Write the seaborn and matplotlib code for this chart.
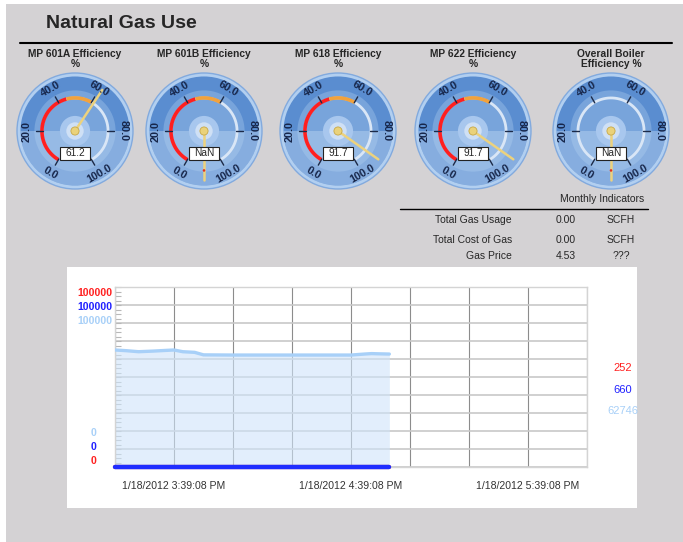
import numpy as np
import pandas as pd
import matplotlib
matplotlib.use('Agg')
import matplotlib.pyplot as plt
import matplotlib.dates as mdates
from matplotlib.patches import Circle, Rectangle, Polygon
from matplotlib.ticker import MultipleLocator
import seaborn as sns

# Gauge data
gauge_titles = ['MP 601A Efficiency\n%', 'MP 601B Efficiency\n%', 'MP 618 Efficiency\n%',
                'MP 622 Efficiency\n%', 'Overall Boiler\nEfficiency %']
gauge_values = [61.2, np.nan, 91.7, 91.7, np.nan]
gauge_bands = [True, True, True, True, False]
scale_ticks = [0, 20, 40, 60, 80, 100]
red_band = [0, 45]
orange_band = [45, 60]

# Monthly indicators
indicator_names = ['Total Gas Usage', 'Total Cost of Gas', 'Gas Price']
indicator_values = ['0.00', '0.00', '4.53']
indicator_units = ['SCFH', 'SCFH', '???']

# Trend data
trend_day = '2012-01-18 '
lightblue_times = ['15:19:08', '15:23:08', '15:27:08', '15:32:08', '15:36:38', '15:39:08',
                   '15:42:08', '15:46:08', '15:49:08', '15:59:08', '16:19:08', '16:39:08',
                   '16:44:08', '16:46:08', '16:48:08', '16:52:08']
lightblue_values = [65000, 64600, 64050, 64400, 64800, 65000, 64050, 63700, 62300, 62200,
                    62200, 62200, 62800, 63000, 62900, 62746]
blue_times = ['15:19:08', '16:52:08']
blue_values = [0, 0]
red_times = ['15:19:08', '16:52:08']
red_values = [0, 0]
x_label_times = ['15:39:08', '16:39:08', '17:39:08']
x_labels = ['1/18/2012 3:39:08 PM', '1/18/2012 4:39:08 PM', '1/18/2012 5:39:08 PM']
x_start, x_end = '15:19:08', '17:59:08'
current_values = ['252', '660', '62746']
series_colors = ['#ff2020', '#2020ff', '#a8d0f8']

W, H = 683, 542
sns.set_style('white')
plt.rcParams['font.family'] = ['Liberation Sans', 'DejaVu Sans']

fig = plt.figure(figsize=(W / 100, H / 100), dpi=100)
bg = fig.add_axes([0, 0, 1, 1])
bg.set_xlim(0, W)
bg.set_ylim(H, 0)
bg.axis('off')

# panels
bg.add_patch(Rectangle((6, 4), W - 6, H - 4, fc='#d4d2d4', ec='none'))
bg.add_patch(Rectangle((67, 267), 570, 241, fc='white', ec='none'))
bg.text(46, 23, 'Natural Gas Use', fontsize=14, fontweight='bold', va='center', ha='left')
bg.plot([20, 672], [43, 43], color='black', lw=1.5)


def gauge(cx, cy, R, title, value, bands):
    def pt(r, ang):
        a = np.deg2rad(ang)
        return cx + r * np.cos(a), cy - r * np.sin(a)

    def v2a(v):
        return 240 - 3 * v

    bg.add_patch(Circle((cx, cy), R, fc='#b2cff0', ec='#82aade', lw=1))
    bg.add_patch(Circle((cx, cy), 0.94 * R, fc='#5a8dd0', ec='none'))
    bg.add_patch(Circle((cx, cy), 0.70 * R, fc='#78a4db', ec='none'))
    t = np.linspace(180, 360, 80)
    x, y = pt(0.94 * R, t)
    bg.add_patch(Polygon(np.column_stack([x, y]), closed=True, fc='#bcd6f3', alpha=0.45, ec='none'))

    t = np.linspace(240, -60, 150)
    x, y = pt(0.57 * R, t)
    bg.plot(x, y, color='#d9e6f6', lw=2, solid_capstyle='butt')
    if bands:
        for (a, b), c in [(red_band, '#ff1f1f'), (orange_band, '#f2a23c')]:
            t = np.linspace(v2a(a), v2a(b), 60)
            x, y = pt(0.57 * R, t)
            bg.plot(x, y, color=c, lw=2.6, solid_capstyle='butt')

    for v in scale_ticks:
        ang = v2a(v)
        x0, y0 = pt(0.56 * R, ang)
        x1, y1 = pt(0.68 * R, ang)
        bg.plot([x0, x1], [y0, y1], color='#1c2a48', lw=1)
        rot = ang - 90
        if rot < -90:
            rot += 180
        elif rot > 90:
            rot -= 180
        lx, ly = pt(0.84 * R, ang)
        bg.text(lx, ly, f'{v:.1f}', rotation=rot, rotation_mode='anchor', ha='center',
                va='center', fontsize=7.8, fontweight='bold', color='#17264a')

    bg.add_patch(Circle((cx, cy), 0.26 * R, fc='#a8c7ee', ec='none'))
    bg.add_patch(Circle((cx, cy), 0.15 * R, fc='#cfe0f5', ec='none'))
    if np.isnan(value):
        x1, y1 = pt(0.85 * R, -90)
        bg.plot([cx, x1], [cy, y1], color='#ecd27e', lw=1.8)
        bg.add_patch(Circle(pt(0.68 * R, -90), 1.3, fc='#e03020', ec='none', zorder=5))
        label = 'NaN'
    else:
        x1, y1 = pt(0.85 * R, v2a(value))
        bg.plot([cx, x1], [cy, y1], color='#ecd27e', lw=1.8)
        label = f'{value:.1f}'
    bg.add_patch(Circle((cx, cy), 0.07 * R, fc='#ead27a', ec='#c8a848', lw=0.6, zorder=4))
    bg.add_patch(Rectangle((cx - 15, cy + 0.38 * R - 6.5), 30, 13, fc='white', ec='#222222',
                           lw=0.8, zorder=6))
    bg.text(cx, cy + 0.38 * R, label, ha='center', va='center', fontsize=7.3, zorder=7)
    bg.text(cx, 59, title, ha='center', va='center', fontsize=7.4, fontweight='bold',
            linespacing=0.95)


gauge_x = [75, 204, 338, 473, 611]
for gx, tt, gv, gb in zip(gauge_x, gauge_titles, gauge_values, gauge_bands):
    gauge(gx, 131, 58, tt, gv, gb)

# Monthly indicators table
bg.text(602, 199, 'Monthly Indicators', ha='center', va='center', fontsize=7.5)
bg.plot([400, 648], [209, 209], color='black', lw=1)
for i, (n, v, u) in enumerate(zip(indicator_names, indicator_values, indicator_units)):
    yy = [220, 240, 256][i]
    bg.text(512, yy, n, ha='right', va='center', fontsize=7.5)
    bg.text(566, yy, v, ha='center', va='center', fontsize=7.5)
    bg.text(621, yy, u, ha='center', va='center', fontsize=7.5)

# Trend chart
ax = fig.add_axes([115 / W, 1 - 467 / H, 472 / W, 180 / H])
ax.set_facecolor('white')
df_lb = pd.DataFrame({'time': pd.to_datetime([trend_day + t for t in lightblue_times]),
                      'value': lightblue_values})
df_blue = pd.DataFrame({'time': pd.to_datetime([trend_day + t for t in blue_times]),
                        'value': blue_values})
df_red = pd.DataFrame({'time': pd.to_datetime([trend_day + t for t in red_times]),
                       'value': red_values})

grid_times = pd.date_range(trend_day + x_start, trend_day + x_end, freq='20min')
ax.vlines(grid_times, 0, 100000, color='#8c8c8c', lw=0.8, zorder=0.5)
ax.yaxis.set_major_locator(MultipleLocator(10000))
ax.yaxis.set_minor_locator(MultipleLocator(2500))
ax.grid(axis='y', color='#c8c8c8', lw=1.2, zorder=0.4)
ax.set_axisbelow(True)

ax.fill_between(df_lb['time'], df_lb['value'], 0, color='#cfe4fa', alpha=0.6, lw=0, zorder=1)
sns.lineplot(data=df_lb, x='time', y='value', ax=ax, color='#a8d0f8', lw=2.4, zorder=3)
sns.lineplot(data=df_red, x='time', y='value', ax=ax, color=series_colors[0], lw=3,
             zorder=4, clip_on=False)
sns.lineplot(data=df_blue, x='time', y='value', ax=ax, color='#1f2dff', lw=3.2,
             zorder=5, clip_on=False)

ax.set_ylim(0, 100000)
ax.set_xlim(pd.Timestamp(trend_day + x_start), pd.Timestamp(trend_day + x_end))
ax.set_xticks(pd.to_datetime([trend_day + t for t in x_label_times]), x_labels)
ax.xaxis.set_minor_locator(mdates.MinuteLocator(byminute=[4, 9, 14, 19, 24, 29, 34, 39, 44, 49, 54, 59]))
ax.tick_params(axis='x', which='major', length=0, pad=10, labelsize=7.6, labelcolor='#333333')
ax.tick_params(axis='x', which='minor', direction='in', length=5, color='#c4c4c4', width=0.8)
ax.tick_params(axis='y', which='both', direction='in', length=4, color='#b8b8b8', width=0.8,
               labelleft=False, left=True)
ax.set_xlabel('')
ax.set_ylabel('')
for s in ax.spines.values():
    s.set_color('#d4d4d4')
    s.set_linewidth(1)

# axis range labels and current values
for yy, c in zip([293, 307, 321], series_colors):
    bg.text(113, yy, '100000', ha='right', va='center', fontsize=7.6, fontweight='bold', color=c)
for yy, c in zip([433, 447, 461], series_colors[::-1]):
    bg.text(94, yy, '0', ha='center', va='center', fontsize=7.6, fontweight='bold', color=c)
for yy, v, c in zip([368, 390, 411], current_values, series_colors):
    bg.text(623, yy, v, ha='center', va='center', fontsize=8, color=c)

fig.savefig('out.png', dpi=100)
